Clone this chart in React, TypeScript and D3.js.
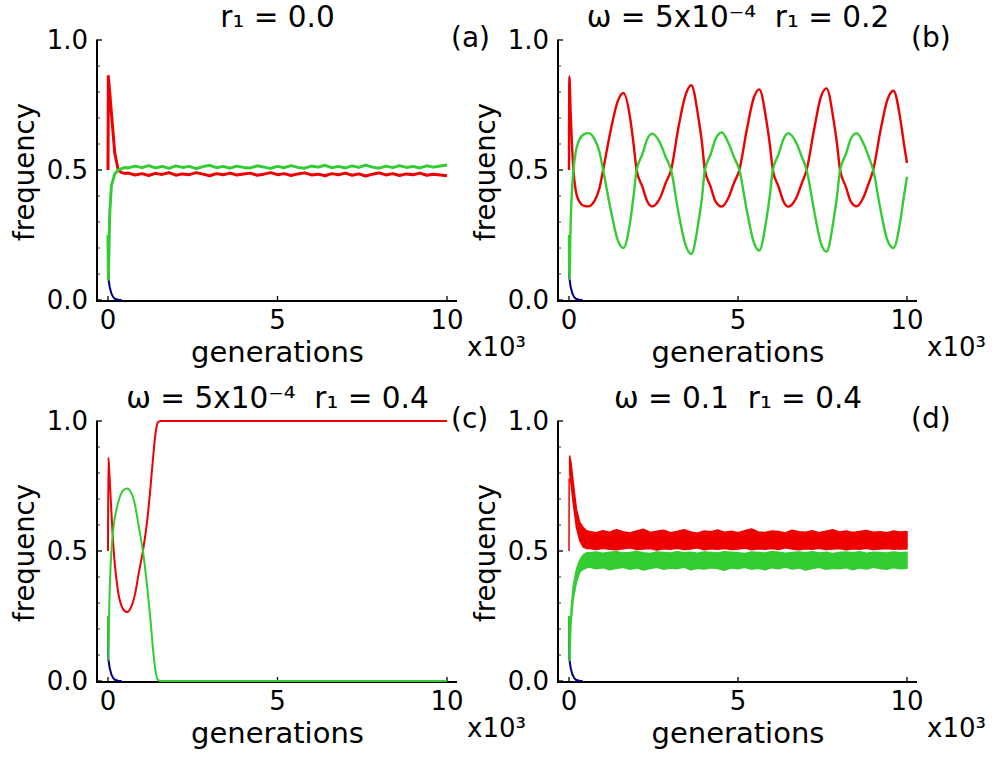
import React from 'react';
import * as d3 from 'd3';

// ---------- data (generations in units of 10^3, frequencies) ----------
const steadyT: number[] = d3.range(0, 48).map(i => 0.6 + i * 0.2);

const blueRows: [number, number][] = [
  [0, 0.25], [0.01, 0.085], [0.05, 0.05], [0.1, 0.025], [0.15, 0.012], [0.2, 0.005], [0.3, 0.001], [0.4, 0],
];

// panel (a)
const aRedStart: [number, number][] = [
  [0, 0.5], [0.01, 0.86], [0.05, 0.8], [0.1, 0.72], [0.2, 0.565], [0.3, 0.5], [0.4, 0.49], [0.5, 0.487],
];
const aGreenStart: [number, number][] = [
  [0, 0.25], [0.01, 0.08], [0.05, 0.33], [0.1, 0.44], [0.2, 0.485], [0.3, 0.5], [0.4, 0.505], [0.5, 0.51],
];
const aRedSteady: number[] = [
  0.488, 0.481, 0.486, 0.479, 0.487, 0.483, 0.490, 0.480,
  0.485, 0.482, 0.490, 0.484, 0.478, 0.486, 0.482, 0.488,
  0.481, 0.485, 0.488, 0.480, 0.484, 0.490, 0.482, 0.486,
  0.479, 0.485, 0.489, 0.481, 0.484, 0.478, 0.486, 0.482,
  0.488, 0.480, 0.485, 0.477, 0.484, 0.489, 0.481, 0.486,
  0.479, 0.485, 0.482, 0.488, 0.480, 0.484, 0.481, 0.478,
];
const aGreenSteady: number[] = [
  0.508, 0.515, 0.509, 0.517, 0.508, 0.514, 0.506, 0.516,
  0.510, 0.514, 0.505, 0.513, 0.518, 0.509, 0.514, 0.507,
  0.515, 0.510, 0.508, 0.516, 0.511, 0.506, 0.514, 0.509,
  0.517, 0.510, 0.507, 0.515, 0.511, 0.518, 0.509, 0.514,
  0.508, 0.516, 0.510, 0.519, 0.511, 0.507, 0.515, 0.509,
  0.517, 0.510, 0.514, 0.508, 0.516, 0.511, 0.515, 0.519,
];

// panel (b)
const bT: number[] = [
  0, 0.01, 0.05, 0.08, 0.13, 0.2, 0.3, 0.45, 0.57, 0.75, 0.9,
  1.01, 1.23, 1.43, 1.61, 1.82, 1.91, 2.0, 2.17, 2.32, 2.46, 2.71, 2.86,
  3.02, 3.24, 3.44, 3.62, 3.83, 3.93, 4.02, 4.19, 4.34, 4.52, 4.73, 4.88,
  5.04, 5.26, 5.46, 5.63, 5.84, 5.94, 6.03, 6.2, 6.35, 6.49, 6.74, 6.89,
  7.03, 7.25, 7.45, 7.62, 7.83, 7.93, 8.02, 8.19, 8.34, 8.51, 8.72, 8.87,
  9.0, 9.22, 9.42, 9.6, 9.81, 9.91, 10.0,
];
const bRed: number[] = [
  0.5, 0.86, 0.72, 0.62, 0.5, 0.42, 0.38, 0.362, 0.36, 0.38, 0.43,
  0.5, 0.65, 0.76, 0.796, 0.69, 0.6, 0.5, 0.436, 0.378, 0.36, 0.397, 0.45,
  0.5, 0.665, 0.785, 0.826, 0.70, 0.61, 0.5, 0.436, 0.378, 0.359, 0.397, 0.45,
  0.5, 0.655, 0.775, 0.81, 0.69, 0.6, 0.5, 0.436, 0.378, 0.359, 0.397, 0.45,
  0.5, 0.655, 0.78, 0.814, 0.69, 0.6, 0.5, 0.436, 0.378, 0.36, 0.397, 0.45,
  0.5, 0.655, 0.77, 0.805, 0.69, 0.6, 0.527,
];
const bGreen: number[] = [
  0.25, 0.08, 0.3, 0.4, 0.5, 0.57, 0.615, 0.638, 0.642, 0.62, 0.57,
  0.5, 0.35, 0.235, 0.2, 0.31, 0.4, 0.5, 0.56, 0.62, 0.64, 0.6, 0.55,
  0.5, 0.335, 0.215, 0.177, 0.3, 0.39, 0.5, 0.56, 0.62, 0.644, 0.6, 0.55,
  0.5, 0.345, 0.225, 0.19, 0.31, 0.4, 0.5, 0.56, 0.62, 0.642, 0.6, 0.55,
  0.5, 0.345, 0.22, 0.186, 0.31, 0.4, 0.5, 0.56, 0.62, 0.642, 0.6, 0.55,
  0.5, 0.345, 0.23, 0.2, 0.31, 0.4, 0.474,
];

// panel (c)
const cT: number[] = [
  0, 0.01, 0.04, 0.08, 0.13, 0.18, 0.25, 0.33, 0.43, 0.56, 0.7, 0.8, 0.9,
  1.03, 1.15, 1.25, 1.33, 1.4, 1.47, 1.55, 10.0,
];
const cRed: number[] = [
  0.5, 0.86, 0.8, 0.7, 0.58, 0.48, 0.39, 0.32, 0.28, 0.265, 0.29, 0.335, 0.41,
  0.5, 0.61, 0.74, 0.86, 0.95, 0.995, 1.0, 1.0,
];
const cGreen: number[] = [
  0.25, 0.08, 0.3, 0.45, 0.55, 0.61, 0.66, 0.7, 0.73, 0.74, 0.72, 0.675, 0.6,
  0.5, 0.37, 0.24, 0.12, 0.04, 0.005, 0.0, 0.0,
];

// panel (d): thin start lines and noisy bands (lower / upper envelope)
const dRedStart: [number, number][] = [[0, 0.5], [0.005, 0.78]];
const dGreenStart: [number, number][] = [[0, 0.25], [0.01, 0.08], [0.02, 0.1]];
const dBandStartT: number[] = [0.02, 0.06, 0.12, 0.22, 0.32, 0.42, 0.52];
const dRedLoStart: number[] = [0.8, 0.76, 0.69, 0.59, 0.54, 0.515, 0.51];
const dRedHiStart: number[] = [0.865, 0.84, 0.77, 0.66, 0.61, 0.59, 0.578];
const dGreenLoStart: number[] = [0.08, 0.22, 0.31, 0.38, 0.42, 0.43, 0.435];
const dGreenHiStart: number[] = [0.12, 0.27, 0.36, 0.43, 0.465, 0.485, 0.493];
const dRedHi: number[] = [
  0.575, 0.570, 0.578, 0.572, 0.582, 0.574, 0.569, 0.577,
  0.584, 0.571, 0.576, 0.580, 0.570, 0.575, 0.582, 0.573,
  0.568, 0.577, 0.574, 0.581, 0.572, 0.576, 0.570, 0.578,
  0.585, 0.573, 0.571, 0.577, 0.575, 0.569, 0.580, 0.574,
  0.572, 0.578, 0.570, 0.576, 0.582, 0.573, 0.577, 0.571,
  0.575, 0.579, 0.572, 0.574, 0.570, 0.577, 0.573, 0.575,
];
const dRedLo: number[] = [
  0.510, 0.506, 0.511, 0.507, 0.505, 0.509, 0.512, 0.506,
  0.508, 0.510, 0.504, 0.509, 0.507, 0.511, 0.506, 0.508,
  0.512, 0.505, 0.509, 0.507, 0.510, 0.506, 0.508, 0.511,
  0.505, 0.509, 0.507, 0.510, 0.506, 0.512, 0.508, 0.505,
  0.509, 0.507, 0.511, 0.506, 0.508, 0.510, 0.505, 0.509,
  0.507, 0.511, 0.506, 0.508, 0.510, 0.507, 0.509, 0.508,
];
const dGreenHi: number[] = [
  0.493, 0.496, 0.491, 0.495, 0.497, 0.492, 0.494, 0.498,
  0.493, 0.490, 0.496, 0.494, 0.492, 0.497, 0.493, 0.495,
  0.491, 0.496, 0.494, 0.492, 0.497, 0.495, 0.493, 0.490,
  0.496, 0.494, 0.492, 0.498, 0.495, 0.491, 0.494, 0.496,
  0.493, 0.497, 0.492, 0.495, 0.490, 0.494, 0.496, 0.493,
  0.497, 0.491, 0.495, 0.494, 0.492, 0.496, 0.493, 0.495,
];
const dGreenLo: number[] = [
  0.438, 0.432, 0.436, 0.428, 0.434, 0.437, 0.430, 0.435,
  0.427, 0.433, 0.437, 0.430, 0.435, 0.432, 0.438, 0.428,
  0.434, 0.431, 0.436, 0.433, 0.426, 0.435, 0.432, 0.437,
  0.430, 0.434, 0.428, 0.436, 0.432, 0.438, 0.431, 0.435,
  0.427, 0.433, 0.437, 0.430, 0.434, 0.432, 0.436, 0.428,
  0.435, 0.431, 0.437, 0.433, 0.430, 0.436, 0.432, 0.434,
];

const xTicks = [0, 5, 10];
const yMajor = [0, 0.5, 1.0];
const yMinor = [0.1, 0.2, 0.3, 0.4, 0.6, 0.7, 0.8, 0.9];
const titles = ['r\u2081 = 0.0', '\u03c9 = 5x10\u207b\u2074  r\u2081 = 0.2', '\u03c9 = 5x10\u207b\u2074  r\u2081 = 0.4', '\u03c9 = 0.1  r\u2081 = 0.4'];
const panelLabels = ['(a)', '(b)', '(c)', '(d)'];

// ---------- layout ----------
const RED = '#ee0000';
const GREEN = '#33cc33';
const BLUE = '#000080';
const FONT = "'DejaVu Sans', sans-serif";

const frames = [
  { x0: 108, x1: 447, yb: 300, yt: 40 },
  { x0: 569, x1: 907, yb: 300, yt: 40 },
  { x0: 108, x1: 447, yb: 681, yt: 421 },
  { x0: 569, x1: 907, yb: 681, yt: 421 },
];

const zip = (t: number[], v: number[]): [number, number][] => t.map((x, i) => [x, v[i]]);

type Series = { kind: 'line' | 'band'; color: string; width?: number; pts?: [number, number][]; lo?: [number, number][]; hi?: [number, number][]; curve?: any };

const panelSeries: Series[][] = [
  [
    { kind: 'line', color: RED, width: 3, pts: [...aRedStart, ...zip(steadyT, aRedSteady)] },
    { kind: 'line', color: BLUE, width: 2, pts: blueRows },
    { kind: 'line', color: GREEN, width: 3, pts: [...aGreenStart, ...zip(steadyT, aGreenSteady)] },
  ],
  [
    { kind: 'line', color: RED, width: 2.4, pts: zip(bT, bRed), curve: d3.curveMonotoneX },
    { kind: 'line', color: BLUE, width: 2, pts: blueRows },
    { kind: 'line', color: GREEN, width: 2.4, pts: zip(bT, bGreen), curve: d3.curveMonotoneX },
  ],
  [
    { kind: 'line', color: RED, width: 2, pts: zip(cT, cRed), curve: d3.curveMonotoneX },
    { kind: 'line', color: BLUE, width: 2, pts: blueRows },
    { kind: 'line', color: GREEN, width: 2, pts: zip(cT, cGreen), curve: d3.curveMonotoneX },
  ],
  [
    { kind: 'line', color: RED, width: 1.5, pts: dRedStart },
    { kind: 'band', color: RED, lo: [...zip(dBandStartT, dRedLoStart), ...zip(steadyT, dRedLo)], hi: [...zip(dBandStartT, dRedHiStart), ...zip(steadyT, dRedHi)] },
    { kind: 'line', color: BLUE, width: 2, pts: blueRows },
    { kind: 'line', color: GREEN, width: 2, pts: dGreenStart },
    { kind: 'band', color: GREEN, lo: [...zip(dBandStartT, dGreenLoStart), ...zip(steadyT, dGreenLo)], hi: [...zip(dBandStartT, dGreenHiStart), ...zip(steadyT, dGreenHi)] },
  ],
];

function Panel({ idx }: { idx: number }) {
  const f = frames[idx];
  const x = d3.scaleLinear().domain([0, 10]).range([f.x0, f.x1]);
  const y = d3.scaleLinear().domain([0, 1]).range([f.yb, f.yt]);
  const spineX = f.x0 - 11;
  const spineR = f.x1 + 10;
  const axisY = f.yb + 1;
  const cx = (f.x0 + f.x1) / 2;
  const series = panelSeries[idx];
  return (
    <g>
      {/* spines */}
      <line x1={spineX} x2={spineX} y1={f.yt - 0.5} y2={axisY + 1} stroke="#000" strokeWidth={2} />
      <line x1={spineX - 1} x2={spineR} y1={axisY} y2={axisY} stroke="#000" strokeWidth={2} />
      {yMajor.map(v => (
        <line key={'M' + v} x1={spineX} x2={spineX + 5} y1={y(v)} y2={y(v)} stroke="#000" strokeWidth={1.3} />
      ))}
      {yMinor.map(v => (
        <line key={'m' + v} x1={spineX} x2={spineX + 3} y1={y(v)} y2={y(v)} stroke="#000" strokeWidth={0.8} />
      ))}
      {xTicks.map(v => (
        <line key={'x' + v} x1={x(v)} x2={x(v)} y1={axisY} y2={axisY - 5} stroke="#000" strokeWidth={1.3} />
      ))}
      {series.map((s, i) => {
        if (s.kind === 'line') {
          const gen = d3.line<[number, number]>().x(d => x(d[0])).y(d => y(d[1])).curve(s.curve || d3.curveLinear);
          return <path key={i} d={gen(s.pts!) || ''} fill="none" stroke={s.color} strokeWidth={s.width} strokeLinejoin="round" />;
        }
        const lo = s.lo!, hi = s.hi!;
        const area = d3.area<number>()
          .x(j => x(lo[j][0]))
          .y0(j => y(lo[j][1]))
          .y1(j => y(hi[j][1]));
        const idxs = lo.map((_, j) => j);
        return <path key={i} d={area(idxs) || ''} fill={s.color} stroke={s.color} strokeWidth={1.5} strokeLinejoin="round" />;
      })}
      {/* tick labels */}
      {yMajor.map(v => (
        <text key={'yl' + v} x={spineX - 9} y={y(v)} dy="0.36em" textAnchor="end" fontSize={26} fontFamily={FONT}>{v.toFixed(1)}</text>
      ))}
      {xTicks.map(v => (
        <text key={'xl' + v} x={x(v)} y={f.yb + 29} textAnchor="middle" fontSize={26} fontFamily={FONT}>{v}</text>
      ))}
      <text x={f.x1 + 20} y={f.yb + 56} fontSize={26} fontFamily={FONT}>x10³</text>
      <text x={cx} y={f.yb + 62} textAnchor="middle" fontSize={29} fontFamily={FONT}>generations</text>
      <text transform={`translate(${spineX - 63},${(f.yt + f.yb) / 2 + 2}) rotate(-90)`} textAnchor="middle" fontSize={27.5} fontFamily={FONT}>frequency</text>
      <text x={cx} y={f.yt - 13} textAnchor="middle" fontSize={29.5} fontFamily={FONT} style={{ whiteSpace: 'pre' }}>{titles[idx]}</text>
      <text x={f.x1 + 4} y={f.yt + 7} fontSize={28} fontFamily={FONT}>{panelLabels[idx]}</text>
    </g>
  );
}

export default function App() {
  return (
    <svg width={994} height={758} style={{ position: 'absolute', left: 0, top: 0, background: '#fff' }}>
      <rect width={994} height={758} fill="#fff" />
      {[0, 1, 2, 3].map(i => <Panel key={i} idx={i} />)}
    </svg>
  );
}
